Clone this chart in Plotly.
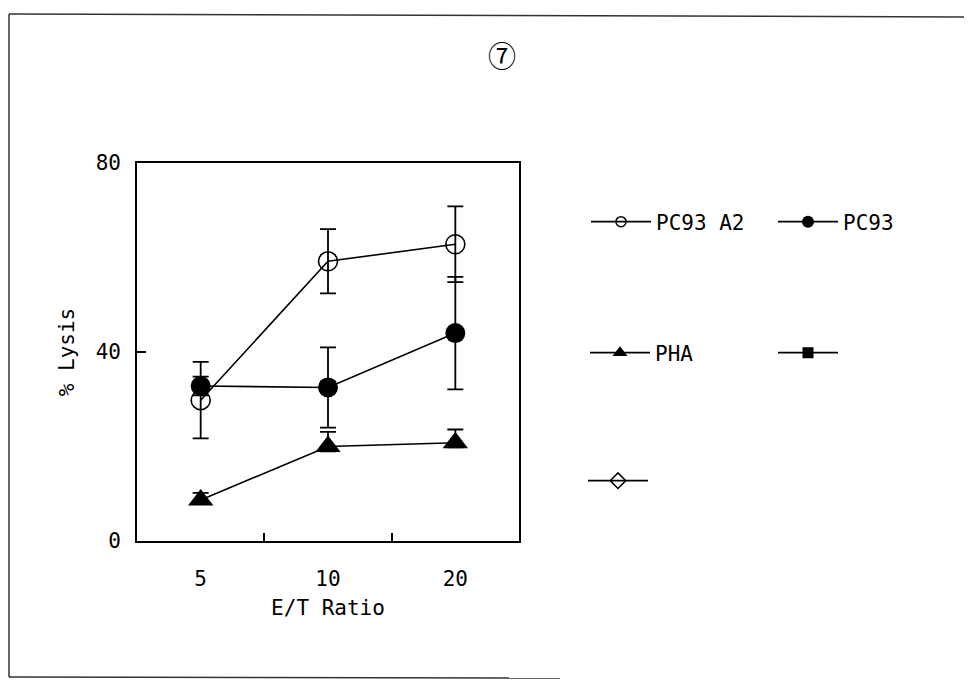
import plotly.graph_objects as go

# ---------------- data ----------------
categories = ["5", "10", "20"]

pc93a2_vals = [29.8, 59.2, 62.8]
pc93a2_err = [8.1, 6.8, 8.0]

pc93_vals = [32.8, 32.5, 44.0]
pc93_err = [2.0, 8.5, 11.9]

pha_vals = [8.7, 20.0, 20.8]
pha_err_plus = [1.5, 3.1, 2.8]
pha_err_minus = [0.5, 1.0, 1.0]   # lower bars hidden behind the triangles

# two further series appear in the legend only (no values plotted)
empty_vals = [None, None, None]

series_names = ["PC93 A2", "PC93", "PHA", "", ""]

y_ticks = [0, 40, 80]
x_title = "E/T Ratio"
y_title = "% Lysis"
panel_label = "⑦"

# ---------------- layout geometry ----------------
OFF = 8                      # page body margin of the browser
W, H = 972 - OFF, 681 - OFF  # figure size
L, R, T, B = 137 - OFF, 519 - OFF, 163 - OFF, 541 - OFF  # plot area (px)

FONT = "DejaVu Sans Mono, Liberation Mono, monospace"
FS = 21


def px(xp):
    return (xp - OFF - L) / (R - L)


def py(yp):
    return (B - (yp - OFF)) / (B - T)


fig = go.Figure()

line_style = dict(color="black", width=1.6)
err_style = dict(type="data", visible=True, color="black", thickness=1.8, width=8)

# (values, errors, plot marker, legend marker)
specs = [
    dict(y=pc93a2_vals, err=dict(array=pc93a2_err, **err_style),
         m=dict(symbol="circle-open", size=19, color="black", line=dict(width=1.6, color="black")),
         lm=dict(symbol="circle-open", size=10, color="black", line=dict(width=1.5, color="black")),
         legend="legend"),
    dict(y=pc93_vals, err=dict(array=pc93_err, **err_style),
         m=dict(symbol="circle", size=20, color="black"),
         lm=dict(symbol="circle", size=12, color="black"),
         legend="legend2"),
    dict(y=pha_vals, err=dict(array=pha_err_plus, arrayminus=pha_err_minus, symmetric=False, **err_style),
         m=dict(symbol="triangle-up", size=22, color="black"),
         lm=dict(symbol="triangle-up", size=13, color="black"),
         legend="legend3"),
    dict(y=empty_vals, err=None,
         m=dict(symbol="square", size=11, color="black"),
         lm=dict(symbol="square", size=11, color="black"),
         legend="legend4"),
    dict(y=empty_vals, err=None,
         m=dict(symbol="diamond-open", size=12, color="black", line=dict(width=1.5, color="black")),
         lm=dict(symbol="diamond-open", size=12, color="black", line=dict(width=1.5, color="black")),
         legend="legend5"),
]

for i, s in enumerate(specs):
    grp = "g%d" % i
    kw = dict(
        x=categories, y=s["y"], name=series_names[i], mode="lines+markers",
        line=line_style, marker=s["m"], legendgroup=grp, showlegend=False,
    )
    if s["err"] is not None:
        kw["error_y"] = s["err"]
    fig.add_trace(go.Scatter(**kw))
    # legend key (same series, smaller symbol as in the original key)
    fig.add_trace(go.Scatter(
        x=categories, y=empty_vals, name=series_names[i], mode="lines+markers",
        line=line_style, marker=s["lm"], legendgroup=grp, showlegend=True,
        legend=s["legend"], hoverinfo="skip",
    ))


def leg(xp, yp):
    return dict(
        x=(xp - OFF) / W, y=1 - (yp - OFF) / H, xref="container", yref="container",
        xanchor="left", yanchor="middle",
        font=dict(family=FONT, size=FS, color="black"),
        bgcolor="rgba(0,0,0,0)", borderwidth=0,
        itemwidth=60, itemsizing="trace", tracegroupgap=0,
    )


shape_line = dict(color="#333333", width=1.5)

fig.update_layout(
    width=W, height=H,
    margin=dict(l=L, r=W - R, t=T, b=H - B, pad=0),
    paper_bgcolor="white", plot_bgcolor="white",
    font=dict(family=FONT, size=FS, color="black"),
    showlegend=True,
    legend=leg(586, 222),
    legend2=leg(773, 222),
    legend3=leg(585, 353),
    legend4=leg(773, 353),
    legend5=leg(583, 481),
    xaxis=dict(
        type="category", categoryorder="array", categoryarray=categories,
        range=[-0.5, 2.5], tickson="boundaries", ticks="inside", ticklen=8,
        tickwidth=1.5, tickcolor="black",
        showline=True, linecolor="black", linewidth=1.6, mirror=True,
        showgrid=False, zeroline=False,
        ticklabelstandoff=18,
        tickfont=dict(family=FONT, size=FS),
        title=dict(text=x_title, standoff=10, font=dict(family=FONT, size=FS)),
    ),
    yaxis=dict(
        range=[0, 80], tickvals=y_ticks, ticks="inside", ticklen=9,
        tickwidth=1.5, tickcolor="black",
        showline=True, linecolor="black", linewidth=1.6, mirror=True,
        showgrid=False, zeroline=False,
        ticklabelstandoff=10,
        tickfont=dict(family=FONT, size=FS),
        title=dict(text=y_title, standoff=15, font=dict(family=FONT, size=FS)),
    ),
    annotations=[dict(
        text=panel_label, x=px(502), y=py(55), xref="paper", yref="paper",
        xanchor="center", yanchor="middle", showarrow=False,
        font=dict(family="Noto Sans CJK JP", size=28, color="black"),
    )],
    shapes=[
        dict(type="line", xref="paper", yref="paper", x0=px(9), y0=py(14), x1=px(972), y1=py(17), line=shape_line),
        dict(type="line", xref="paper", yref="paper", x0=px(9), y0=py(14), x1=px(9), y1=py(677), line=shape_line),
        dict(type="line", xref="paper", yref="paper", x0=px(9), y0=py(677), x1=px(560), y1=py(678), line=shape_line),
    ],
)

fig.write_html("out.html")
